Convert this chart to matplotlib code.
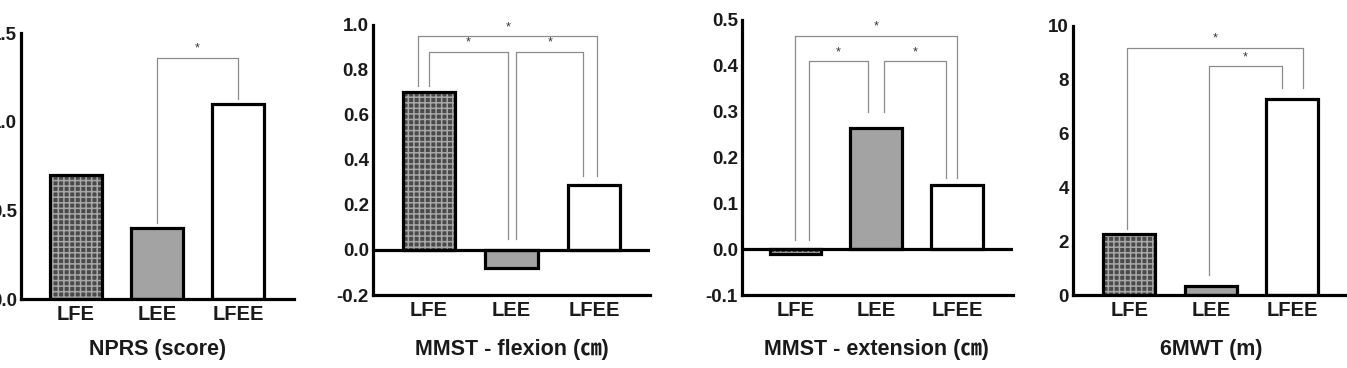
import matplotlib
matplotlib.use("Agg")
import matplotlib.pyplot as plt
import matplotlib.transforms as mtransforms
import numpy as np

# ---------- Data ----------
GROUPS = ["LFE", "LEE", "LFEE"]

NPRS = [0.70, 0.40, 1.10]
MMST_FLEX = [0.70, -0.08, 0.29]
MMST_EXT = [-0.01, 0.265, 0.14]
SIXMWT = [2.25, 0.35, 7.3]

TITLES = ["NPRS (score)", "MMST - flexion (㎝)", "MMST - extension (㎝)", "6MWT (m)"]
YLIMS = [(0, 1.5), (-0.2, 1.0), (-0.1, 0.5), (0, 10)]
YTICKS = [[0, 0.5, 1.0, 1.5],
          [-0.2, 0, 0.2, 0.4, 0.6, 0.8, 1.0],
          [-0.1, 0, 0.1, 0.2, 0.3, 0.4, 0.5],
          [0, 2, 4, 6, 8, 10]]
YFMT = ["{:.1f}", "{:.1f}", "{:.1f}", "{:.0f}"]

# significance brackets: (group i, group j, leg offset i, leg offset j,
#                         bar height, leg i bottom, leg j bottom)
BRACKETS = [
    [(1, 2, 0.0, 0.0, 1.36, 0.43, 1.13)],
    [(0, 2, -0.13, 0.04, 0.95, 0.73, 0.33),
     (0, 1, 0.0, -0.04, 0.88, 0.73, 0.05),
     (1, 2, 0.06, -0.13, 0.88, 0.05, 0.33)],
    [(0, 2, 0.0, 0.0, 0.465, 0.02, 0.155),
     (0, 1, 0.17, -0.10, 0.41, 0.02, 0.30),
     (1, 2, 0.09, -0.14, 0.41, 0.30, 0.155)],
    [(0, 2, -0.03, 0.13, 9.2, 2.45, 7.7),
     (1, 2, -0.02, -0.13, 8.5, 0.75, 7.7)],
]

# axes boxes in pixels: left, right, top, bottom
BOXES = [(21, 294, 33, 299), (373, 650, 25, 295),
         (742, 1013, 20, 295), (1073, 1347, 26, 295)]
XLIMS = [(-0.68, 2.69), (-0.68, 2.68), (-0.66, 2.69), (-0.69, 2.67)]

W, H = 1347, 368
LW = 2.3
FONT = ["Liberation Sans", "Noto Sans CJK JP", "DejaVu Sans"]
plt.rcParams["font.family"] = FONT
plt.rcParams["hatch.linewidth"] = 1.1
plt.rcParams["hatch.color"] = "#a8a8a8"

fig = plt.figure(figsize=(W / 100, H / 100), dpi=100)

all_vals = [NPRS, MMST_FLEX, MMST_EXT, SIXMWT]
x = np.arange(len(GROUPS))

for k, vals in enumerate(all_vals):
    l, r, t, b = BOXES[k]
    ax = fig.add_axes([l / W, 1 - b / H, (r - l) / W, (b - t) / H])
    ax.set_xlim(*XLIMS[k])
    ax.set_ylim(*YLIMS[k])

    # checkered LFE, grey LEE, white LFEE
    ax.bar(x[0], vals[0], width=0.64, color="#4a4a4a", hatch="+++",
           edgecolor="#a8a8a8", linewidth=0, zorder=2)
    ax.bar(x[1], vals[1], width=0.64, color="#a3a3a3", linewidth=0, zorder=2)
    ax.bar(x[2], vals[2], width=0.64, color="white", linewidth=0, zorder=2)
    ax.bar(x, vals, width=0.64, fill=False, edgecolor="black",
           linewidth=LW, zorder=3)

    if YLIMS[k][0] < 0:
        ax.axhline(0, color="black", lw=LW, zorder=4)

    for sp in ("top", "right"):
        ax.spines[sp].set_visible(False)
    for sp in ("left", "bottom"):
        ax.spines[sp].set_linewidth(LW)
        ax.spines[sp].set_zorder(5)

    ax.set_xticks(x)
    ax.set_xticklabels(GROUPS)
    ax.set_yticks(YTICKS[k])
    ax.set_yticklabels([YFMT[k].format(v) for v in YTICKS[k]])
    ax.tick_params(length=0, pad=3)
    ax.tick_params(axis="y", labelsize=13.5)
    ax.tick_params(axis="x", labelsize=14.5, pad=4)
    for lab in ax.get_xticklabels() + ax.get_yticklabels():
        lab.set_fontweight("bold")
        lab.set_color("#1a1a1a")

    span = YLIMS[k][1] - YLIMS[k][0]
    for i, j, di, dj, yb, bi, bj in BRACKETS[k]:
        xi, xj = x[i] + di, x[j] + dj
        ax.plot([xi, xi, xj, xj], [bi, yb, yb, bj], color="#8c8c8c",
                lw=0.9, zorder=1, clip_on=False)
        ax.text((xi + xj) / 2, yb + span * 0.012, "*", ha="center",
                va="bottom", fontsize=9, color="#333333")

    trans = mtransforms.blended_transform_factory(ax.transData, fig.transFigure)
    ax.text(1, 1 - 349 / H, TITLES[k], transform=trans, ha="center",
            va="center", fontsize=15.5, fontweight="bold", color="#1a1a1a")

fig.savefig("out.png", dpi=100)
